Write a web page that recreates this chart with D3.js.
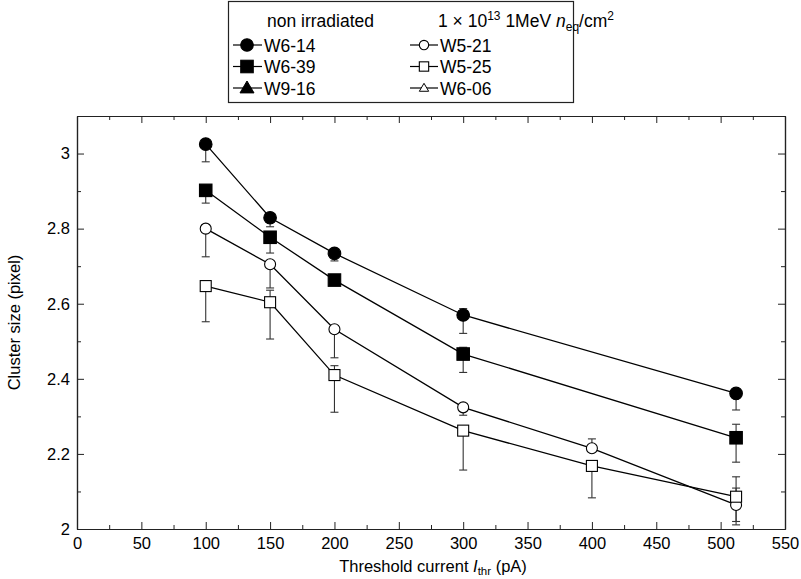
<!DOCTYPE html>
<html>
<head>
<meta charset="utf-8">
<script src="https://cdn.jsdelivr.net/npm/d3@7"></script>
<style>
  body { margin: 0; background: #fff; }
  text { font-family: "Liberation Sans", Arial, Helvetica, sans-serif; fill: #000; }
</style>
</head>
<body>
<div id="chart"></div>
<script>
// thresholds in pA
const thrFull = [100, 150, 200, 300, 400, 512];
const thrNonIrr = [100, 150, 200, 300, 512];

// non irradiated
const w614 = [3.025, 2.829, 2.734, 2.570, 2.361];
const w614Lo = [0.047, 0.024, 0.020, 0.049, 0.044];
const w614Hi = [0.010, 0.010, 0.010, 0.017, 0.010];
const w639 = [2.902, 2.777, 2.663, 2.466, 2.243];
const w639Lo = [0.034, 0.042, 0.010, 0.049, 0.065];
const w639Hi = [0.010, 0.010, 0.010, 0.018, 0.036];

// irradiated 1e13
const w521 = [2.800, 2.705, 2.532, 2.324, 2.215, 2.064];
const w521Lo = [0.075, 0.063, 0.076, 0.021, 0.010, 0.053];
const w521Hi = [0.010, 0.010, 0.010, 0.010, 0.025, 0.045];
const w525 = [2.647, 2.604, 2.410, 2.262, 2.168, 2.086];
const w525Lo = [0.095, 0.098, 0.099, 0.105, 0.085, 0.066];
const w525Hi = [0.010, 0.032, 0.025, 0.010, 0.010, 0.053];

const xTicks = d3.range(0, 551, 50);
const yTicks = [2, 2.2, 2.4, 2.6, 2.8, 3];
const yTickLabels = ["2", "2.2", "2.4", "2.6", "2.8", "3"];

function zipSeries(xs, ys, lo, hi) {
  return xs.map(function(x, i) { return {x: x, y: ys[i], lo: ys[i] - lo[i], hi: ys[i] + hi[i]}; });
}

const series = [
  {name: "W6-14", shape: "circle", fill: "#000", data: zipSeries(thrNonIrr, w614, w614Lo, w614Hi)},
  {name: "W6-39", shape: "square", fill: "#000", data: zipSeries(thrNonIrr, w639, w639Lo, w639Hi)},
  {name: "W5-21", shape: "circle", fill: "none", data: zipSeries(thrFull, w521, w521Lo, w521Hi)},
  {name: "W5-25", shape: "square", fill: "none", data: zipSeries(thrFull, w525, w525Lo, w525Hi)}
];

const margin = {top: 116, right: 16, bottom: 50, left: 77};
const width = 801 - margin.left - margin.right;
const height = 579 - margin.top - margin.bottom;

const x = d3.scaleLinear().domain([0, 550]).range([0, width]);
const y = d3.scaleLinear().domain([2, 3.1]).range([height, 0]);

const root = d3.select("#chart").append("svg")
  .attr("width", 801)
  .attr("height", 579);

const svg = root.append("g")
  .attr("transform", "translate(" + margin.left + "," + margin.top + ")");

// axes, ticks drawn inward on all four sides
const fmt = function(d) { return yTickLabels[yTicks.indexOf(d)]; };

svg.append("g").attr("transform", "translate(0," + height + ")")
  .call(d3.axisBottom(x).tickValues(xTicks).tickSize(-7).tickPadding(8).tickSizeOuter(0));
svg.append("g").attr("transform", "translate(0," + height + ")")
  .call(d3.axisBottom(x).tickValues(d3.range(25, 550, 50)).tickSize(-4).tickFormat("").tickSizeOuter(0));
svg.append("g")
  .call(d3.axisTop(x).tickValues(xTicks).tickSize(-7).tickFormat("").tickSizeOuter(0));
svg.append("g")
  .call(d3.axisTop(x).tickValues(d3.range(25, 550, 50)).tickSize(-4).tickFormat("").tickSizeOuter(0));

svg.append("g")
  .call(d3.axisLeft(y).tickValues(yTicks).tickSize(-7).tickPadding(7).tickFormat(fmt).tickSizeOuter(0));
svg.append("g")
  .call(d3.axisLeft(y).tickValues(d3.range(2.1, 3.1, 0.2)).tickSize(-4).tickFormat("").tickSizeOuter(0));
svg.append("g").attr("transform", "translate(" + width + ",0)")
  .call(d3.axisRight(y).tickValues(yTicks).tickSize(-7).tickFormat("").tickSizeOuter(0));
svg.append("g").attr("transform", "translate(" + width + ",0)")
  .call(d3.axisRight(y).tickValues(d3.range(2.1, 3.1, 0.2)).tickSize(-4).tickFormat("").tickSizeOuter(0));

svg.selectAll(".domain").attr("stroke", "#222").attr("stroke-width", 1.2);
svg.selectAll(".tick line").attr("stroke", "#222");
svg.selectAll(".tick text").attr("font-size", 16.5).attr("font-family", "Liberation Sans, Arial, sans-serif");

// axis titles
root.append("text")
  .attr("transform", "translate(20," + (margin.top + height / 2) + ") rotate(-90)")
  .attr("text-anchor", "middle")
  .attr("font-size", 16.5)
  .text("Cluster size (pixel)");

const xt = root.append("text")
  .attr("x", margin.left + width / 2 + 2)
  .attr("y", 572)
  .attr("text-anchor", "middle")
  .attr("font-size", 16.5);
xt.append("tspan").text("Threshold current ");
xt.append("tspan").attr("font-style", "italic").text("I");
xt.append("tspan").attr("font-size", 11.5).attr("dy", 3).text("thr");
xt.append("tspan").attr("dy", -3).text(" (pA)");

// lines, error bars, markers
const line = d3.line().x(function(d) { return x(d.x); }).y(function(d) { return y(d.y); });

function drawMarker(g, shape, fill, cx, cy, k) {
  k = k || 1;
  if (shape === "circle") {
    g.append("circle").attr("cx", cx).attr("cy", cy)
      .attr("r", (fill === "none" ? 5.5 : 6.3) * k)
      .attr("fill", fill === "none" ? "#fff" : fill)
      .attr("stroke", "#000").attr("stroke-width", 1.1);
  } else if (shape === "square") {
    const s = (fill === "none" ? 11 : 12.5) * k;
    g.append("rect").attr("x", cx - s / 2).attr("y", cy - s / 2)
      .attr("width", s).attr("height", s)
      .attr("fill", fill === "none" ? "#fff" : fill)
      .attr("stroke", "#000").attr("stroke-width", 1.1);
  } else {
    const s = (fill === "none" ? 5.5 : 7) * k;
    g.append("path")
      .attr("d", "M" + cx + "," + (cy - s) + "L" + (cx + s) + "," + (cy + s * 0.7) + "L" + (cx - s) + "," + (cy + s * 0.7) + "Z")
      .attr("fill", fill === "none" ? "#fff" : fill)
      .attr("stroke", "#000").attr("stroke-width", 1);
  }
}

series.forEach(function(s) {
  const g = svg.append("g");
  g.append("path").datum(s.data)
    .attr("d", line)
    .attr("fill", "none")
    .attr("stroke", "#000")
    .attr("stroke-width", 1.3);

  const eb = g.selectAll(".eb").data(s.data).enter().append("g").attr("stroke", "#333").attr("stroke-width", 1.1);
  eb.append("line")
    .attr("x1", function(d) { return x(d.x); }).attr("x2", function(d) { return x(d.x); })
    .attr("y1", function(d) { return y(d.lo); }).attr("y2", function(d) { return y(d.hi); });
  eb.append("line")
    .attr("x1", function(d) { return x(d.x) - 4; }).attr("x2", function(d) { return x(d.x) + 4; })
    .attr("y1", function(d) { return y(d.lo); }).attr("y2", function(d) { return y(d.lo); });
  eb.append("line")
    .attr("x1", function(d) { return x(d.x) - 4; }).attr("x2", function(d) { return x(d.x) + 4; })
    .attr("y1", function(d) { return y(d.hi); }).attr("y2", function(d) { return y(d.hi); });
});

series.forEach(function(s) {
  const g = svg.append("g");
  s.data.forEach(function(d) { drawMarker(g, s.shape, s.fill, x(d.x), y(d.y)); });
});

// legend
const legendLeft = ["W6-14", "W6-39", "W9-16"];
const legendRight = ["W5-21", "W5-25", "W6-06"];
const legendShapes = ["circle", "square", "triangle"];

const leg = root.append("g");
leg.append("rect")
  .attr("x", 228.5).attr("y", 1.5).attr("width", 345).attr("height", 101)
  .attr("fill", "#fff").attr("stroke", "#222").attr("stroke-width", 1.2);

leg.append("text").attr("x", 267).attr("y", 27).attr("font-size", 17.5).text("non irradiated");
const hdr = leg.append("text").attr("x", 438).attr("y", 27).attr("font-size", 17.5);
hdr.append("tspan").text("1 \u00d7 10");
hdr.append("tspan").attr("font-size", 12).attr("dy", -7).text("13");
hdr.append("tspan").attr("dy", 7).text(" 1MeV ");
hdr.append("tspan").attr("font-style", "italic").text("n");
hdr.append("tspan").attr("font-size", 12).attr("dy", 4).text("eq");
hdr.append("tspan").attr("dy", -4).text("/cm");
hdr.append("tspan").attr("font-size", 12).attr("dy", -7).text("2");

legendLeft.forEach(function(name, i) {
  const cy = 45 + i * 21.5;
  leg.append("line").attr("x1", 233).attr("x2", 262).attr("y1", cy).attr("y2", cy)
    .attr("stroke", "#000").attr("stroke-width", 1.2);
  drawMarker(leg, legendShapes[i], "#000", 247, cy);
  leg.append("text").attr("x", 264).attr("y", cy + 6.5).attr("font-size", 17.5).text(name);
});
legendRight.forEach(function(name, i) {
  const cy = 45 + i * 21.5;
  leg.append("line").attr("x1", 410).attr("x2", 438).attr("y1", cy).attr("y2", cy)
    .attr("stroke", "#000").attr("stroke-width", 1.2);
  drawMarker(leg, legendShapes[i], "none", 424, cy, 0.85);
  leg.append("text").attr("x", 440).attr("y", cy + 6.5).attr("font-size", 17.5).text(name);
});
</script>
</body>
</html>
